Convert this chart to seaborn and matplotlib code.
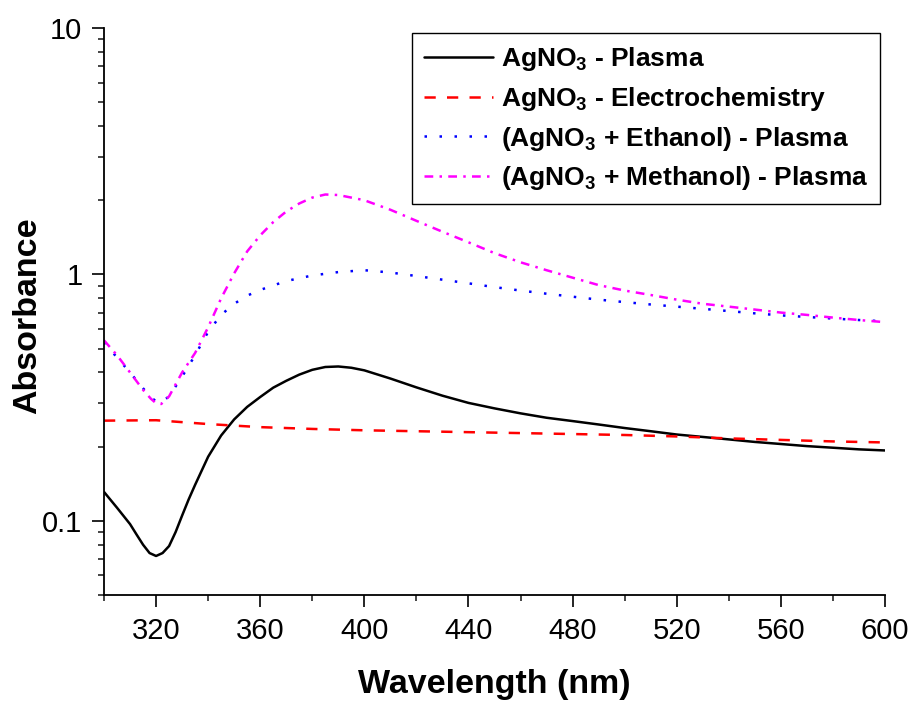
import matplotlib
matplotlib.use("Agg")
import matplotlib.pyplot as plt
import matplotlib.ticker as mticker
import numpy as np
import pandas as pd
import seaborn as sns

# UV-Vis absorbance spectra of silver nanoparticle colloids
wl_plasma = [300, 305, 310, 312.5, 315, 317.5, 320, 322.5, 325, 327.5, 330, 332.5,
             335, 340, 345, 350, 355, 360, 365, 370, 375, 380, 385, 390, 395, 400,
             410, 420, 430, 440, 450, 460, 470, 480, 490, 500, 510, 520, 530, 540,
             550, 560, 570, 580, 590, 600]
abs_plasma = [0.131, 0.113, 0.097, 0.088, 0.080, 0.074, 0.072, 0.074, 0.079, 0.090,
              0.105, 0.122, 0.140, 0.182, 0.222, 0.258, 0.290, 0.318, 0.347, 0.370,
              0.392, 0.410, 0.421, 0.423, 0.418, 0.408, 0.378, 0.348, 0.322, 0.301,
              0.286, 0.273, 0.262, 0.254, 0.246, 0.238, 0.231, 0.224, 0.219, 0.214,
              0.209, 0.205, 0.201, 0.198, 0.195, 0.193]

wl_electro = [300, 320, 340, 360, 380, 400, 420, 440, 460, 480, 500, 520, 540, 560,
              580, 600]
abs_electro = [0.255, 0.256, 0.247, 0.240, 0.236, 0.233, 0.231, 0.229, 0.227, 0.225,
               0.223, 0.220, 0.216, 0.213, 0.210, 0.208]

wl_ethanol = [300, 305, 310, 315, 318, 320, 322, 325, 330, 335, 340, 345, 350, 355,
              360, 370, 380, 390, 400, 410, 420, 430, 440, 450, 460, 470, 480, 490,
              500, 510, 520, 530, 540, 550, 560, 570, 580, 590, 600]
abs_ethanol = [0.53, 0.46, 0.40, 0.345, 0.318, 0.305, 0.303, 0.32, 0.385, 0.47, 0.585,
               0.685, 0.76, 0.82, 0.865, 0.94, 0.99, 1.022, 1.04, 1.018, 0.985, 0.952,
               0.92, 0.888, 0.86, 0.835, 0.812, 0.79, 0.772, 0.755, 0.74, 0.725, 0.71,
               0.695, 0.682, 0.672, 0.662, 0.653, 0.645]

wl_methanol = [300, 305, 310, 315, 318, 320, 322, 325, 330, 335, 340, 345, 350, 355,
               360, 365, 370, 375, 380, 385, 390, 395, 400, 410, 420, 430, 440, 450,
               460, 470, 480, 490, 500, 510, 520, 530, 540, 550, 560, 570, 580, 590,
               600]
abs_methanol = [0.54, 0.47, 0.40, 0.34, 0.313, 0.300, 0.298, 0.32, 0.40, 0.48, 0.61,
                0.80, 1.01, 1.24, 1.44, 1.63, 1.80, 1.94, 2.05, 2.11, 2.10, 2.05, 2.00,
                1.83, 1.65, 1.49, 1.35, 1.22, 1.12, 1.04, 0.97, 0.905, 0.86, 0.825,
                0.79, 0.76, 0.74, 0.72, 0.70, 0.685, 0.668, 0.653, 0.64]

labels = [r"AgNO$_3$ - Plasma",
          r"AgNO$_3$ - Electrochemistry",
          r"(AgNO$_3$ + Ethanol) - Plasma",
          r"(AgNO$_3$ + Methanol) - Plasma"]

x_ticks = [320, 360, 400, 440, 480, 520, 560, 600]
y_ticks = [0.1, 1, 10]
y_tick_labels = ["0.1", "1", "10"]

sns.set_style("ticks")
plt.rcParams["font.family"] = ["Liberation Sans", "DejaVu Sans"]
plt.rcParams["text.color"] = "black"
plt.rcParams["axes.labelcolor"] = "black"
plt.rcParams["mathtext.fontset"] = "custom"
plt.rcParams["mathtext.rm"] = "Liberation Sans:bold"
plt.rcParams["mathtext.default"] = "rm"

fig = plt.figure(figsize=(9.12, 7.03), dpi=100)
ax = fig.add_axes([104 / 912, 1 - 595 / 703, (885 - 104) / 912, (595 - 28) / 703])

lw = 1.8
series = [
    (wl_plasma, abs_plasma, "black", "-"),
    (wl_electro, abs_electro, "#ff0000", (0, (4.5, 4.5))),
    (wl_ethanol, abs_ethanol, "#0000ff", (0, (1.0, 5.0))),
    (wl_methanol, abs_methanol, "#ff00ff", (0, (3.5, 2.5, 1.0, 2.5))),
]
for (x, y, c, ls), lab in zip(series, labels):
    df = pd.DataFrame({"Wavelength": x, "Absorbance": y})
    sns.lineplot(data=df, x="Wavelength", y="Absorbance", ax=ax, color=c,
                 linewidth=lw, linestyle=ls, label=lab)

ax.set_yscale("log")
ax.set_xlim(300, 600)
ax.set_ylim(0.05, 10)

ax.xaxis.set_major_locator(mticker.FixedLocator(x_ticks))
ax.xaxis.set_minor_locator(mticker.MultipleLocator(20))
ax.yaxis.set_major_locator(mticker.FixedLocator(y_ticks))
ax.yaxis.set_major_formatter(mticker.FixedFormatter(y_tick_labels))
ax.yaxis.set_minor_locator(mticker.LogLocator(base=10, subs=np.arange(2, 10)))
ax.yaxis.set_minor_formatter(mticker.NullFormatter())

ax.tick_params(axis="both", which="major", direction="out", length=8.5, width=1.2,
               labelsize=21, colors="black", pad=7)
ax.tick_params(axis="both", which="minor", direction="out", length=4.5, width=1.2)

for s in ["left", "bottom"]:
    ax.spines[s].set_linewidth(1.3)
    ax.spines[s].set_color("black")
sns.despine(ax=ax)

ax.set_xlabel("Wavelength (nm)", fontsize=24.5, fontweight="bold")
ax.set_ylabel("Absorbance", fontsize=24.5, fontweight="bold")
ax.xaxis.set_label_coords(0.5, -(685 - 595) / 567, transform=ax.transAxes)
ax.yaxis.set_label_coords(-(104 - 28) / 781, (595 - 316) / 567, transform=ax.transAxes)
ax.xaxis.label.set_va("center")
ax.yaxis.label.set_va("center")

leg = ax.legend(loc="upper right", bbox_to_anchor=(880 / 912, 1 - 33 / 703),
                bbox_transform=fig.transFigure, borderaxespad=0, frameon=True,
                fancybox=False, edgecolor="black", framealpha=1,
                prop={"weight": "bold", "size": 19}, handlelength=2.6,
                handletextpad=0.3, labelspacing=0.45, borderpad=0.45)
leg.get_frame().set_linewidth(1.0)

fig.savefig("out.png", dpi=100)
